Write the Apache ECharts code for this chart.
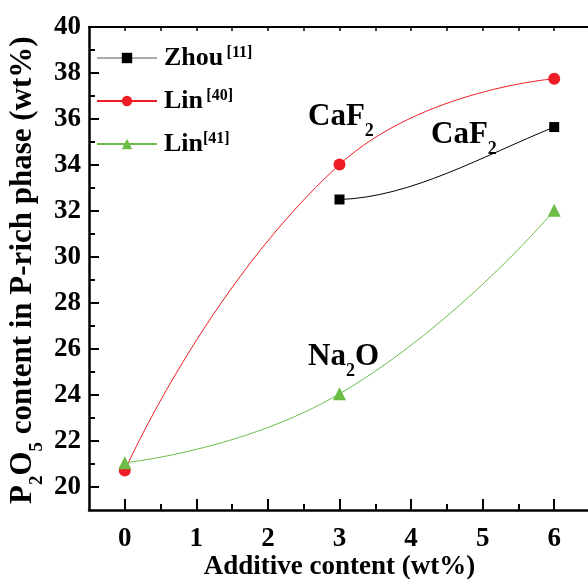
<!DOCTYPE html>
<html>
<head>
<meta charset="utf-8">
<script src="https://cdn.jsdelivr.net/npm/echarts@6/dist/echarts.min.js"></script>
<style>
  html, body { margin: 0; padding: 0; background: #fff; }
  #chart { width: 588px; height: 579px; }
</style>
</head>
<body>
<div id="chart"></div>
<script>
// Additive content (wt%) against P2O5 content in the P-rich phase (wt%)
const zhouX = [3, 6];
const zhouY = [32.5, 35.65];
const lin40X = [0, 3, 6];
const lin40Y = [20.72, 34.02, 37.75];
const lin41X = [0, 3, 6];
const lin41Y = [21.05, 24.05, 32.03];

const xMajorTicks = [0, 1, 2, 3, 4, 5, 6];
const xMinorTicks = [0.5, 1.5, 2.5, 3.5, 4.5, 5.5];
const yMajorTicks = [20, 22, 24, 26, 28, 30, 32, 34, 36, 38, 40];
const yMinorTicks = [21, 23, 25, 27, 29, 31, 33, 35, 37, 39];

const SERIF = '"Liberation Serif", "DejaVu Serif", serif';
const RED = '#ee1c25';
const GREEN = '#6cbd45';
const BLACK = '#000000';

const pairs = (xs, ys) => xs.map((x, i) => [x, ys[i]]);

const chart = echarts.init(document.getElementById('chart'), null, { renderer: 'canvas' });

const tickLabelStyle = {
  fontFamily: SERIF, fontWeight: 'bold', fontSize: 27, color: '#000'
};

const legendRich = {
  m: { fontFamily: SERIF, fontWeight: 'bold', fontSize: 26, color: '#000', lineHeight: 26, padding: [9, 0, 0, 0], verticalAlign: 'bottom' },
  s: { fontFamily: SERIF, fontWeight: 'bold', fontSize: 16, color: '#000', lineHeight: 16, verticalAlign: 'top' }
};
const legendText = {
  'Zhou': '{m|Zhou} {s|[11]}',
  'Lin40': '{m|Lin} {s|[40]}',
  'Lin41': '{m|Lin}{s|[41]}'
};

const subRich = (main, sub) => ({
  m: { fontFamily: SERIF, fontWeight: 'bold', fontSize: main, color: '#000', lineHeight: main, verticalAlign: 'top' },
  s: { fontFamily: SERIF, fontWeight: 'bold', fontSize: sub, color: '#000', lineHeight: sub, verticalAlign: 'bottom' },
  g: { fontSize: 1, lineHeight: main + 8 }
});

const option = {
  animation: false,
  backgroundColor: '#ffffff',
  grid: { left: 89, top: 27, right: -2, bottom: 69, containLabel: false, outerBoundsMode: 'none' },
  legend: {
    orient: 'vertical',
    left: 96,
    top: 36,
    itemWidth: 60,
    itemHeight: 13,
    itemGap: 8,
    padding: 0,
    selectedMode: false,
    data: [
      { name: 'Zhou', lineStyle: { opacity: 1, color: '#555', width: 1 } },
      { name: 'Lin40' },
      { name: 'Lin41' }
    ],
    formatter: name => legendText[name],
    textStyle: { rich: legendRich, padding: [0, 0, 0, 2] }
  },
  xAxis: [
    {
      type: 'value', position: 'bottom', min: -0.5, max: 6.5,
      axisLine: { show: true, onZero: false, lineStyle: { color: '#000', width: 2.5 } },
      axisTick: { show: true, inside: true, length: 11, customValues: xMajorTicks, lineStyle: { color: '#000', width: 2 } },
      axisLabel: { show: true, customValues: xMajorTicks, margin: 16, ...tickLabelStyle },
      splitLine: { show: false },
      name: 'Additive content (wt%)',
      nameLocation: 'middle',
      nameGap: 44,
      nameMoveOverlap: false,
      nameTextStyle: { fontFamily: SERIF, fontWeight: 'bold', fontSize: 27, color: '#000' }
    },
    {
      type: 'value', position: 'bottom', min: -0.5, max: 6.5,
      axisLine: { show: false, onZero: false },
      axisTick: { show: true, inside: true, length: 6, customValues: xMinorTicks, lineStyle: { color: '#000', width: 2 } },
      axisLabel: { show: false },
      splitLine: { show: false }
    },
    {
      type: 'value', position: 'top', min: -0.5, max: 6.5,
      axisLine: { show: true, onZero: false, lineStyle: { color: '#000', width: 2 } },
      axisTick: { show: true, inside: true, length: 4, customValues: xMajorTicks.concat(xMinorTicks), lineStyle: { color: '#000', width: 1.5 } },
      axisLabel: { show: false },
      splitLine: { show: false }
    }
  ],
  yAxis: [
    {
      type: 'value', position: 'left', min: 19, max: 40,
      axisLine: { show: true, onZero: false, lineStyle: { color: '#000', width: 2.5 } },
      axisTick: { show: true, inside: true, length: 10, customValues: yMajorTicks, lineStyle: { color: '#000', width: 2 } },
      axisLabel: { show: true, customValues: yMajorTicks, margin: 8, ...tickLabelStyle },
      splitLine: { show: false }
    },
    {
      type: 'value', position: 'left', min: 19, max: 40,
      axisLine: { show: false, onZero: false },
      axisTick: { show: true, inside: true, length: 6, customValues: yMinorTicks, lineStyle: { color: '#000', width: 2 } },
      axisLabel: { show: false },
      splitLine: { show: false }
    }
  ],
  series: [
    {
      name: 'Zhou',
      type: 'line',
      data: pairs(zhouX, zhouY),
      symbol: 'rect',
      symbolSize: 10,
      itemStyle: { color: BLACK },
      lineStyle: { color: BLACK, width: 1, opacity: 0 },
      z: 4
    },
    {
      // curved connector between the two Zhou points
      name: 'ZhouCurve',
      type: 'custom',
      data: [[zhouX[0], zhouY[0], zhouX[1], zhouY[1]]],
      encode: { x: [0, 2], y: [1, 3] },
      silent: true,
      z: 3,
      renderItem: (params, api) => {
        const p0 = api.coord([api.value(0), api.value(1)]);
        const p1 = api.coord([api.value(2), api.value(3)]);
        const dx = p1[0] - p0[0];
        const dy = p1[1] - p0[1];
        return {
          type: 'bezierCurve',
          shape: {
            x1: p0[0], y1: p0[1],
            cpx1: p0[0] + dx / 3, cpy1: p0[1] + dy * 0.03,
            cpx2: p1[0] - dx / 3, cpy2: p1[1] - dy * 0.4,
            x2: p1[0], y2: p1[1]
          },
          style: { stroke: BLACK, lineWidth: 1, fill: null }
        };
      }
    },
    {
      name: 'Lin40',
      type: 'line',
      data: pairs(lin40X, lin40Y),
      smooth: 0.5,
      symbol: 'circle',
      symbolSize: 12,
      itemStyle: { color: RED },
      lineStyle: { color: RED, width: 1 },
      z: 2
    },
    {
      name: 'Lin41',
      type: 'line',
      data: pairs(lin41X, lin41Y),
      smooth: 0.5,
      symbol: 'triangle',
      symbolSize: 13,
      itemStyle: { color: GREEN },
      lineStyle: { color: GREEN, width: 1 },
      z: 5
    }
  ],
  graphic: [
    {
      type: 'text', x: 27, y: 270, rotation: Math.PI / 2,
      style: {
        text: '{m|P}{s|2}{m|O}{s|5}{m| content in P-rich phase (wt%)}{g| }',
        rich: subRich(31, 19),
        align: 'center', verticalAlign: 'middle'
      }
    },
    {
      type: 'text', x: 308, y: 101,
      style: { text: '{m|CaF}{s|2}{g| }', rich: subRich(31, 18), align: 'left', verticalAlign: 'top' }
    },
    {
      type: 'text', x: 431, y: 119,
      style: { text: '{m|CaF}{s|2}{g| }', rich: subRich(31, 18), align: 'left', verticalAlign: 'top' }
    },
    {
      type: 'text', x: 308, y: 341,
      style: { text: '{m|Na}{s|2}{m|O}{g| }', rich: subRich(31, 18), align: 'left', verticalAlign: 'top' }
    }
  ]
};

chart.setOption(option);
</script>
</body>
</html>
